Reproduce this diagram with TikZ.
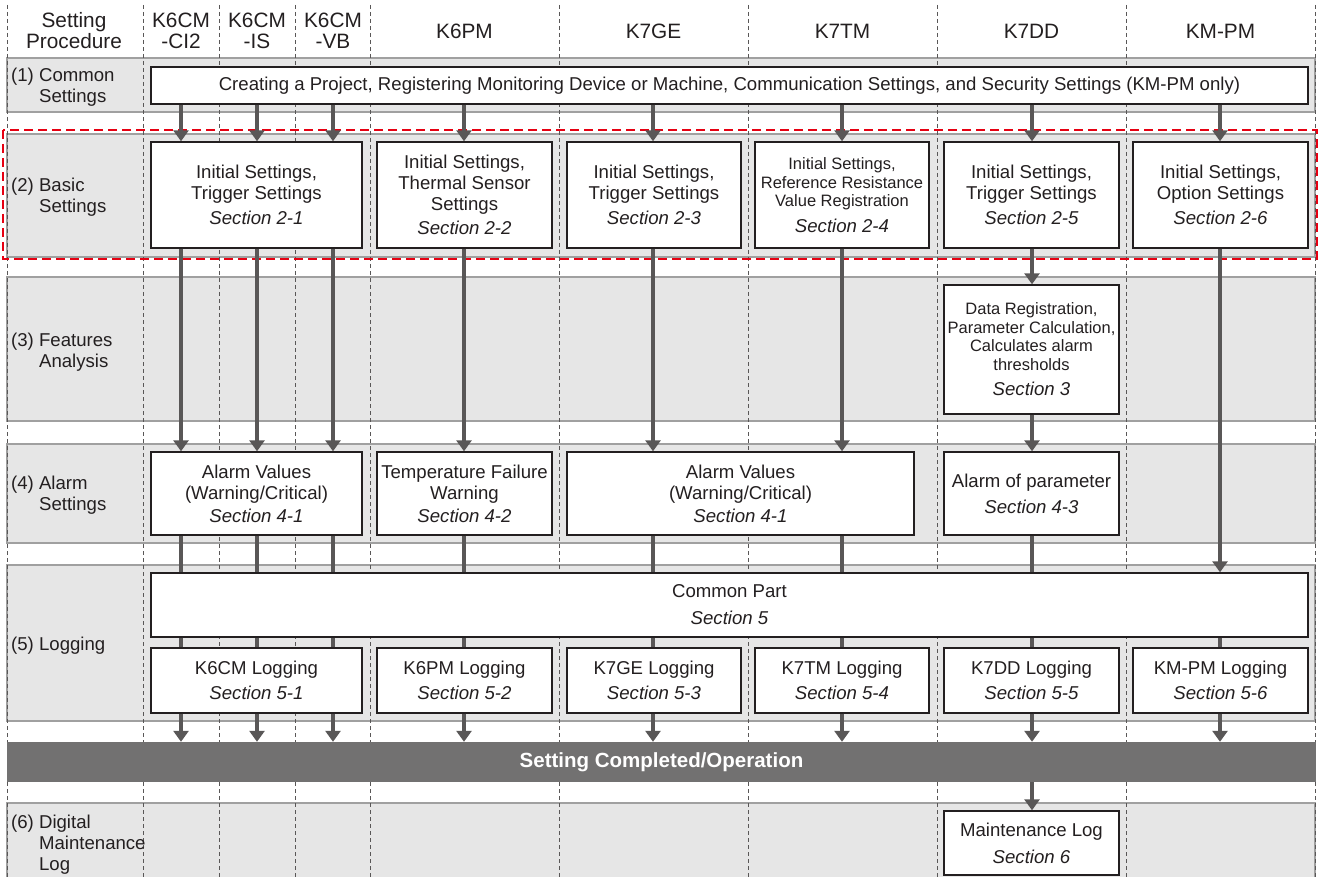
\documentclass[tikz,border=0pt]{standalone}
\usepackage{fontspec}
\setmainfont{Liberation Sans}
\usetikzlibrary{arrows.meta}
\definecolor{bandfill}{HTML}{E6E6E6}
\definecolor{bandline}{HTML}{A0A0A0}
\definecolor{flowgray}{HTML}{595757}
\definecolor{bargray}{HTML}{727171}
\definecolor{inkgray}{HTML}{231F20}
\definecolor{markred}{HTML}{E60012}
\newcommand{\mainsize}{\fontsize{18.6}{21}\selectfont}
\newcommand{\smallsize}{\fontsize{16.5}{18.5}\selectfont}
\newcommand{\headsize}{\fontsize{20.8}{21}\selectfont}
\newcommand{\sect}[1]{{\mainsize\itshape Section #1}}
\newcommand{\ind}{\hphantom{(0) }}
\tikzset{
    band/.style={draw=bandline, line width=2.2pt, fill=bandfill},
    colline/.style={draw=flowgray, line width=1pt, dash pattern=on 4pt off 3pt},
    stepbox/.style={draw=inkgray, fill=white, line width=1.4pt, inner sep=0pt,
        align=center, text=inkgray, font=\mainsize},
    flow/.style={draw=flowgray, line width=3.6pt, -{Triangle[width=15pt,length=11pt]}},
    feed/.style={draw=flowgray, line width=3.6pt},
    rowtitle/.style={anchor=west, align=left, inner sep=0pt, text=inkgray, font=\mainsize},
    colhead/.style={align=center, inner sep=0pt, text=inkgray, font=\headsize},
}

\begin{document}
\begin{tikzpicture}[x=1pt, y=-1pt]
        \useasboundingbox (0,0) rectangle (1319,877);
        \clip (0,0) rectangle (1319,877);
        \draw[band] (7,58) rectangle (1315,112);
        \draw[band] (7,134) rectangle (1315,257);
        \draw[band] (7,277) rectangle (1315,421);
        \draw[band] (7,444) rectangle (1315,543);
        \draw[band] (7,565) rectangle (1315,721);
        \draw[band] (7,803) rectangle (1315,890);
        \foreach \x in {7,143,219,295,370,559,748,937,1126,1315}
            \draw[colline] (\x,5) -- (\x,877);
        \draw[markred, line width=2.2pt, dash pattern=on 9pt off 5pt] (3,130) rectangle (1317,259);

        \node[colhead] (hstep) at (74,31) {Setting\\Procedure};
        \node[colhead] (hci) at (181,31) {K6CM\\-CI2};
        \node[colhead] (his) at (257,31) {K6CM\\-IS};
        \node[colhead] (hvb) at (333,31) {K6CM\\-VB};
        \node[colhead] (hpm) at (464.5,31) {K6PM};
        \node[colhead] (hge) at (653.5,31) {K7GE};
        \node[colhead] (htm) at (842.5,31) {K7TM};
        \node[colhead] (hdd) at (1031.5,31) {K7DD};
        \node[colhead] (hkm) at (1220.5,31) {KM-PM};

        \node[rowtitle] (r1) at (11,87) {(1) Common\\\ind Settings};
        \node[rowtitle] (r2) at (11,197) {(2) Basic\\\ind Settings};
        \node[rowtitle] (r3) at (11,352) {(3) Features\\\ind Analysis};
        \node[rowtitle] (r4) at (11,495) {(4) Alarm\\\ind Settings};
        \node[rowtitle] (r5) at (11,646) {(5) Logging};
        \node[rowtitle] (r6) at (11,845) {(6) Digital\\\ind Maintenance\\\ind Log};

        \foreach \n/\x in {ci/181,is/257,vb/333,pm/464,ge/653,tm/842,dd/1032,km/1220}
            \coordinate (x\n) at (\x,0);

        \node[stepbox, minimum width=1157, minimum height=37] (common) at (729.5,85.5)
            {Creating a Project, Registering Monitoring Device or Machine, Communication Settings, and Security Settings (KM-PM only)};

        \node[stepbox, minimum width=211, minimum height=106] (init6cm) at (256.5,195)
            {Initial Settings,\\Trigger Settings\\[4pt]\sect{2-1}};
        \node[stepbox, minimum width=175, minimum height=106] (init6pm) at (464.5,195)
            {Initial Settings,\\Thermal Sensor\\Settings\\[3pt]\sect{2-2}};
        \node[stepbox, minimum width=174, minimum height=106] (init7ge) at (654,195)
            {Initial Settings,\\Trigger Settings\\[4pt]\sect{2-3}};
        \node[stepbox, minimum width=174, minimum height=106, font=\smallsize] (init7tm) at (842,195)
            {Initial Settings,\\Reference Resistance\\Value Registration\\[7pt]\sect{2-4}};
        \node[stepbox, minimum width=175, minimum height=106] (init7dd) at (1031.5,195)
            {Initial Settings,\\Trigger Settings\\[4pt]\sect{2-5}};
        \node[stepbox, minimum width=175, minimum height=106] (initkm) at (1220.5,195)
            {Initial Settings,\\Option Settings\\[4pt]\sect{2-6}};

        \node[stepbox, minimum width=175, minimum height=129, font=\smallsize] (feat7dd) at (1031.5,349.5)
            {Data Registration,\\Parameter Calculation,\\Calculates alarm\\thresholds\\[7pt]\sect{3}};

        \node[stepbox, minimum width=211, minimum height=83] (alarm6cm) at (256.5,493.5)
            {Alarm Values\\(Warning/Critical)\\[2pt]\sect{4-1}};
        \node[stepbox, minimum width=175, minimum height=83] (alarm6pm) at (464.5,493.5)
            {Temperature Failure\\Warning\\[2pt]\sect{4-2}};
        \node[stepbox, minimum width=347, minimum height=83] (alarm7g) at (740.5,493.5)
            {Alarm Values\\(Warning/Critical)\\[2pt]\sect{4-1}};
        \node[stepbox, minimum width=175, minimum height=83] (alarm7dd) at (1031.5,493.5)
            {Alarm of parameter\\[5pt]\sect{4-3}};

        \node[stepbox, minimum width=1157, minimum height=64] (logcommon) at (729.5,605)
            {Common Part\\[6pt]\sect{5}};
        \node[stepbox, minimum width=211, minimum height=65] (log6cm) at (256.5,680.5)
            {K6CM Logging\\[4pt]\sect{5-1}};
        \node[stepbox, minimum width=175, minimum height=65] (log6pm) at (464.5,680.5)
            {K6PM Logging\\[4pt]\sect{5-2}};
        \node[stepbox, minimum width=174, minimum height=65] (log7ge) at (654,680.5)
            {K7GE Logging\\[4pt]\sect{5-3}};
        \node[stepbox, minimum width=174, minimum height=65] (log7tm) at (842,680.5)
            {K7TM Logging\\[4pt]\sect{5-4}};
        \node[stepbox, minimum width=175, minimum height=65] (log7dd) at (1031.5,680.5)
            {K7DD Logging\\[4pt]\sect{5-5}};
        \node[stepbox, minimum width=175, minimum height=65] (logkm) at (1220.5,680.5)
            {KM-PM Logging\\[4pt]\sect{5-6}};

        \node[fill=bargray, minimum width=1309, minimum height=40, inner sep=0pt,
            text=white, font=\fontsize{20.5}{22}\selectfont\bfseries] (done) at (661.5,762)
            {Setting Completed/Operation};

        \node[stepbox, minimum width=175, minimum height=64] (maint) at (1031.5,843)
            {Maintenance Log\\[6pt]\sect{6}};

        \foreach \c/\t in {ci/init6cm,is/init6cm,vb/init6cm,pm/init6pm,ge/init7ge,tm/init7tm,dd/init7dd,km/initkm}
            \draw[flow] (common.south -| x\c) -- (\t.north -| x\c);
        \foreach \c/\s/\t in {ci/init6cm/alarm6cm,is/init6cm/alarm6cm,vb/init6cm/alarm6cm,pm/init6pm/alarm6pm,
                ge/init7ge/alarm7g,tm/init7tm/alarm7g,dd/init7dd/feat7dd,dd/feat7dd/alarm7dd,km/initkm/logcommon}
            \draw[flow] (\s.south -| x\c) -- (\t.north -| x\c);
        \foreach \c/\s in {ci/alarm6cm,is/alarm6cm,vb/alarm6cm,pm/alarm6pm,ge/alarm7g,tm/alarm7g,dd/alarm7dd}
            \draw[feed] (\s.south -| x\c) -- (logcommon.north -| x\c);
        \foreach \c/\t in {ci/log6cm,is/log6cm,vb/log6cm,pm/log6pm,ge/log7ge,tm/log7tm,dd/log7dd,km/logkm}{
            \draw[feed] (logcommon.south -| x\c) -- (\t.north -| x\c);
            \draw[flow] (\t.south -| x\c) -- (done.north -| x\c);
        }
        \draw[flow] (done.south -| xdd) -- (maint.north -| xdd);
\end{tikzpicture}
\end{document}
